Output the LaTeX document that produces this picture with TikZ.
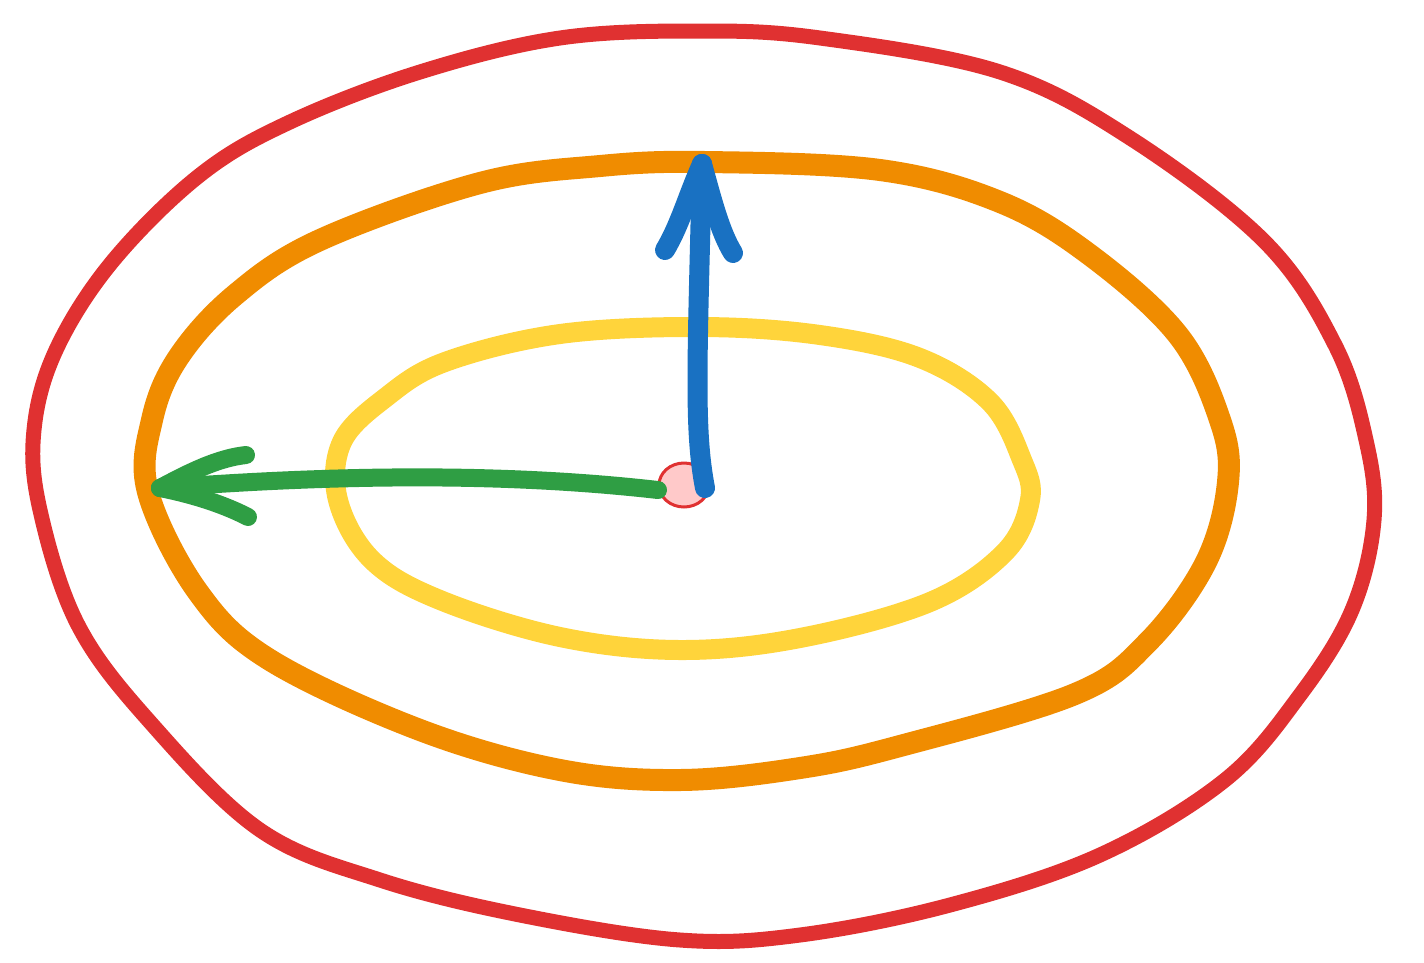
\documentclass[tikz,border=0pt]{standalone}
\usetikzlibrary{shapes.geometric}
\begin{document}
\begin{tikzpicture}[x=1pt,y=-1pt,line cap=round,line join=round]
\definecolor{cred}{HTML}{E03131}
\definecolor{corange}{HTML}{F08C00}
\definecolor{cyellow}{HTML}{FFD43B}
\definecolor{cblue}{HTML}{1971C2}
\definecolor{cgreen}{HTML}{2F9E44}
\definecolor{cpink}{HTML}{FFC9C9}
\tikzset{
  redring/.style={draw=cred,line width=15pt},
  orangering/.style={draw=corange,line width=22pt},
  yellowring/.style={draw=cyellow,line width=20pt},
  bluearrow/.style={draw=cblue,line width=20pt},
  greenarrow/.style={draw=cgreen,line width=18pt},
}
\useasboundingbox (0,0) rectangle (1424,962);
% red outer ring
\draw[redring] plot[smooth cycle,tension=0.6] coordinates {
 (560,38) (700,31) (820,38) (1000,72) (1130,138) (1265,242) (1335,345) (1366,440)
 (1374,520) (1352,610) (1300,695) (1225,780) (1100,855) (950,905) (800,935) (680,940)
 (520,915) (380,880) (260,830) (150,722) (78,625) (40,510) (34,430) (56,350) (112,262)
 (200,175) (290,122) (420,72)};
% orange ring
\draw[orangering] plot[smooth cycle,tension=0.6] coordinates {
 (705,162) (880,170) (1000,202) (1090,255) (1178,335) (1220,420) (1228,482) (1206,562)
 (1148,642) (1075,694) (900,746) (800,768) (680,780) (560,770) (420,730) (270,660)
 (198,592) (148,492) (152,420) (178,358) (235,295) (320,240) (480,183) (600,166)};
% yellow ring
\draw[yellowring] plot[smooth cycle,tension=0.6] coordinates {
 (700,327) (820,335) (920,358) (990,402) (1022,460) (1030,500) (1005,552) (930,602)
 (800,638) (680,650) (560,637) (440,600) (372,560) (338,500) (342,442) (385,398)
 (445,362) (560,334)};
% center dot
\node[ellipse,draw=cred,fill=cpink,line width=3pt,minimum width=50pt,minimum height=44pt,inner sep=0pt] (o) at (684,485) {};
% arrow end points
\coordinate (bstart) at (705,488);
\coordinate (btip) at (702,164);
\coordinate (gstart) at (658,490);
\coordinate (gtip) at (160,488);
% blue arrow
\draw[bluearrow] (bstart) .. controls (694,430) and (697,370) .. (btip);
\draw[bluearrow] (btip) .. controls (688,195) and (680,225) .. (665,250);
\draw[bluearrow] (btip) .. controls (712,200) and (720,232) .. (733,253);
% green arrow
\draw[greenarrow] (gstart) .. controls (500,472) and (330,475) .. (gtip);
\draw[greenarrow] (gtip) .. controls (190,472) and (218,458) .. (246,455);
\draw[greenarrow] (gtip) .. controls (195,495) and (225,505) .. (248,517);
\end{tikzpicture}
\end{document}
